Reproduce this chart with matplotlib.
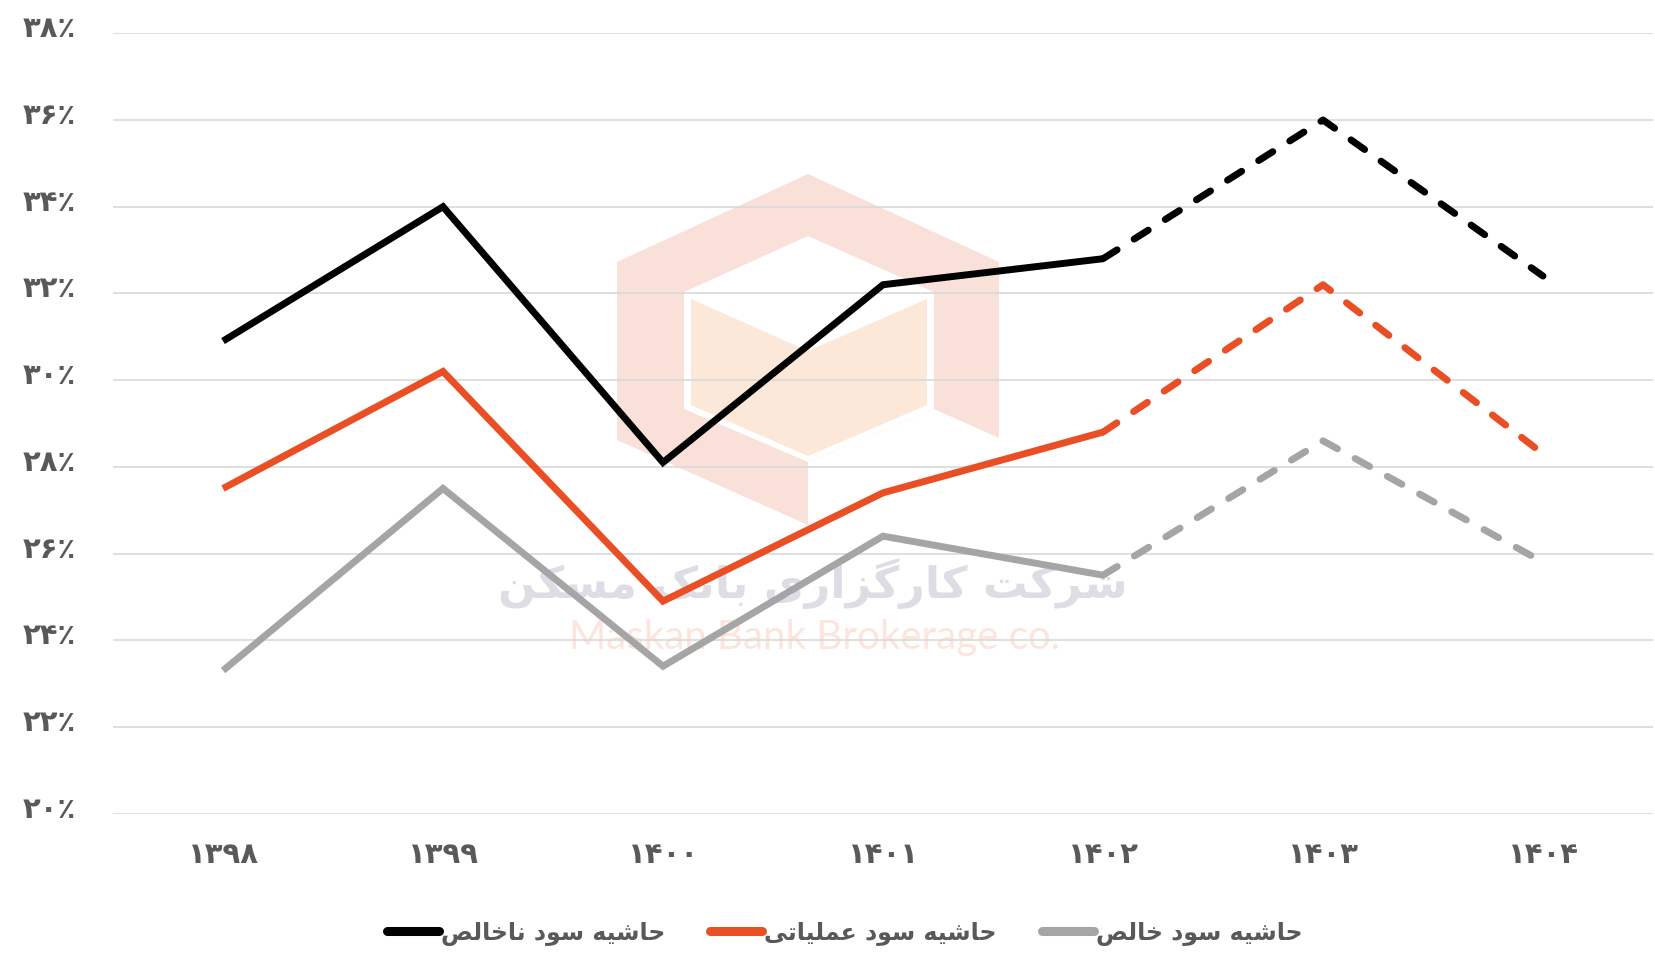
import matplotlib
matplotlib.use("Agg")
import matplotlib.pyplot as plt
from matplotlib.patches import Polygon
from matplotlib.lines import Line2D
from matplotlib.transforms import ScaledTranslation

# ---------------- data ----------------
years = ["۱۳۹۸", "۱۳۹۹", "۱۴۰۰", "۱۴۰۱", "۱۴۰۲", "۱۴۰۳", "۱۴۰۴"]
gross_margin = [30.9, 34.0, 28.1, 32.2, 32.8, 36.0, 32.4]
operating_margin = [27.5, 30.2, 24.9, 27.4, 28.8, 32.2, 28.3]
net_margin = [23.3, 27.5, 23.4, 26.4, 25.5, 28.6, 25.8]
n_actual = 5  # 1398..1402 actual (solid), after that forecast (dashed)
y_ticks = [20, 22, 24, 26, 28, 30, 32, 34, 36, 38]
y_tick_labels = ["۲۰٪", "۲۲٪", "۲۴٪", "۲۶٪", "۲۸٪", "۳۰٪", "۳۲٪", "۳۴٪", "۳۶٪", "۳۸٪"]
series_names = ["حاشیه سود ناخالص", "حاشیه سود عملیاتی", "حاشیه سود خالص"]
watermark_fa = "شرکت کارگزاری بانک مسکن"
watermark_en = "Maskan Bank Brokerage co."

# ---------------- minimal Persian shaping ----------------
FORMS = {
    'ا': ('\uFE8D', '\uFE8E', None, None),
    'ب': ('\uFE8F', '\uFE90', '\uFE91', '\uFE92'),
    'ت': ('\uFE95', '\uFE96', '\uFE97', '\uFE98'),
    'ح': ('\uFEA1', '\uFEA2', '\uFEA3', '\uFEA4'),
    'خ': ('\uFEA5', '\uFEA6', '\uFEA7', '\uFEA8'),
    'د': ('\uFEA9', '\uFEAA', None, None),
    'ر': ('\uFEAD', '\uFEAE', None, None),
    'ز': ('\uFEAF', '\uFEB0', None, None),
    'س': ('\uFEB1', '\uFEB2', '\uFEB3', '\uFEB4'),
    'ش': ('\uFEB5', '\uFEB6', '\uFEB7', '\uFEB8'),
    'ص': ('\uFEB9', '\uFEBA', '\uFEBB', '\uFEBC'),
    'ع': ('\uFEC9', '\uFECA', '\uFECB', '\uFECC'),
    'ل': ('\uFEDD', '\uFEDE', '\uFEDF', '\uFEE0'),
    'م': ('\uFEE1', '\uFEE2', '\uFEE3', '\uFEE4'),
    'ن': ('\uFEE5', '\uFEE6', '\uFEE7', '\uFEE8'),
    'ه': ('\uFEE9', '\uFEEA', '\uFEEB', '\uFEEC'),
    'و': ('\uFEED', '\uFEEE', None, None),
    'ی': ('\uFBFC', '\uFBFD', '\uFBFE', '\uFBFF'),
    'ک': ('\uFB8E', '\uFB8F', '\uFB90', '\uFB91'),
    'گ': ('\uFB92', '\uFB93', '\uFB94', '\uFB95'),
}


def fa(text):
    out = []
    for i, c in enumerate(text):
        if c not in FORMS:
            out.append(c)
            continue
        f = FORMS[c]
        prev = text[i - 1] if i > 0 else None
        nxt = text[i + 1] if i + 1 < len(text) else None
        jp = prev in FORMS and FORMS[prev][2] is not None
        jn = f[2] is not None and nxt in FORMS
        if jp and jn:
            out.append(f[3])
        elif jp:
            out.append(f[1])
        elif jn:
            out.append(f[2])
        else:
            out.append(f[0])
    return ''.join(out)[::-1]


plt.rcParams['font.family'] = ['DejaVu Sans']

W, H = 1656, 959
fig = plt.figure(figsize=(W / 100, H / 100), dpi=100)
fig.patch.set_facecolor('white')


def P(x, y):
    return (x / W, 1 - y / H)


# ---------------- watermark (behind axes) ----------------
outer = [P(808, 174), P(999, 262), P(999, 438), P(934, 409), P(808, 462),
         P(808, 525), P(617, 440), P(617, 262)]
inner = [P(808, 236), P(934, 292), P(934, 409), P(808, 462), P(684, 409), P(684, 292)]
peach = [P(691, 299), P(808, 351), P(927, 299), P(927, 405), P(808, 456), P(691, 405)]
fig.patches.append(Polygon(outer, closed=True, transform=fig.transFigure,
                           facecolor='#F9E1DA', edgecolor='none', zorder=-3))
fig.patches.append(Polygon(inner, closed=True, transform=fig.transFigure,
                           facecolor='white', edgecolor='none', zorder=-2.5))
fig.patches.append(Polygon(peach, closed=True, transform=fig.transFigure,
                           facecolor='#FBE8D9', edgecolor='none', zorder=-2))
fig.text(813 / W, 1 - 583 / H, fa(watermark_fa), ha='center', va='center',
         fontsize=32, fontweight='bold', color='#DEDDE6', zorder=-1)
fig.text(815 / W, 1 - 637 / H, watermark_en, ha='center', va='center',
         fontsize=29, family='Lato', color='#FCE6DC', zorder=-1)

# ---------------- axes ----------------
ax = fig.add_axes([113 / W, 1 - 813.6 / H, (1653 - 113) / W, (813.6 - 33.3) / H])
ax.patch.set_alpha(0)
x = list(range(len(years)))

colors = ['#000000', '#E94E24', '#A5A5A5']
series = [gross_margin, operating_margin, net_margin]
lw = 5.0
for vals, col in zip(series, colors):
    ax.plot(x[:n_actual], vals[:n_actual], color=col, lw=lw,
            solid_capstyle='butt', solid_joinstyle='miter', zorder=3)
    ln, = ax.plot(x[n_actual - 1:], vals[n_actual - 1:], color=col, lw=lw,
                  dash_capstyle='round', solid_joinstyle='miter', zorder=3)
    ln.set_dashes((2.4, 2.9))

ax.set_xlim(-0.5, len(years) - 0.5)
ax.set_ylim(20, 38)
ax.set_yticks(y_ticks)
ax.set_yticklabels(y_tick_labels)
ax.set_xticks(x)
ax.set_xticklabels(years)
ax.grid(axis='y', color='#D9D9D9', lw=1.2, zorder=0)
ax.set_axisbelow(True)
for s in ax.spines.values():
    s.set_visible(False)
ax.tick_params(axis='both', length=0, labelcolor='#595959', labelsize=21)
ax.tick_params(axis='y', pad=27)
ax.tick_params(axis='x', pad=20)
shift = ScaledTranslation(0, 5 / 72, fig.dpi_scale_trans)
for lab in ax.get_xticklabels() + ax.get_yticklabels():
    lab.set_fontweight('bold')
for lab in ax.get_yticklabels():
    lab.set_transform(lab.get_transform() + shift)

# ---------------- legend ----------------
handles = [Line2D([0], [0], color=c, lw=lw + 1.5, solid_capstyle='round') for c in colors]
leg = fig.legend(handles, [fa(s) for s in series_names], loc='center',
                 bbox_to_anchor=(0.51, 1 - 933 / H), ncol=3, frameon=False,
                 handlelength=2.2, handletextpad=0.1, columnspacing=1.9,
                 prop={'size': 17, 'weight': 'bold'})
for t in leg.get_texts():
    t.set_color('#595959')

fig.savefig('out.png', dpi=100, facecolor='white')
